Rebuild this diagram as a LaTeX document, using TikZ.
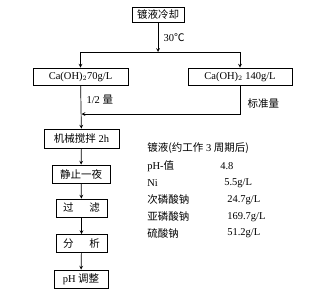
\documentclass[tikz,border=0pt]{standalone}
\usepackage{fontspec}
\setmainfont{Liberation Serif}
\newfontfamily\cjk{Noto Sans CJK SC}
\newcommand{\zh}[1]{{\cjk #1}}
\tikzset{
  stepbox/.style={draw, line width=0.8pt, inner sep=2pt, minimum height=17pt},
  note/.style={inner sep=0pt, anchor=west}
}
\begin{document}
\begin{tikzpicture}[x=1pt, y=-1pt, >=stealth, line width=0.7pt, font=\fontsize{10.5}{12}\selectfont]
\useasboundingbox (0,0) rectangle (334,292);
% flow boxes
\node[stepbox, minimum width=52pt, minimum height=15pt] (cool) at (158,14.5) {\zh{镀液冷却}};
\node[stepbox, minimum width=95pt] (ca1) at (80.5,76.5) {Ca(OH)$_2$70g/L};
\node[stepbox, minimum width=104pt] (ca2) at (240,76.5) {Ca(OH)$_2$ 140g/L};
\node[stepbox, minimum width=75pt, minimum height=19pt] (stir) at (81.5,138.5) {\zh{机械搅拌} 2h};
\node[stepbox, minimum width=58pt, minimum height=18pt] (rest) at (81,174) {\zh{静止一夜}};
\node[stepbox, minimum width=51pt, minimum height=18pt] (filt) at (81.5,208) {\zh{过}\hspace{16pt}\zh{滤}};
\node[stepbox, minimum width=51pt, minimum height=18pt] (anal) at (81.5,243.5) {\zh{分}\hspace{16pt}\zh{析}};
\node[stepbox, minimum width=54pt, minimum height=18pt] (adj) at (81,279) {pH \zh{调整}};
% junctions
\coordinate (j) at (cool.south |- 0,52);
\coordinate (jl) at (ca1.north |- j);
\coordinate (jr) at (ca2.north |- j);
\coordinate (m) at (stir.north |- 0,114);
% connectors
\draw[->] (cool) -- (j) node[pos=0.5, right=2pt] {30\zh{℃}};
\draw (jl) -- (jr);
\draw[->] (jl) -- (ca1);
\draw[->] (jr) -- (ca2);
\draw[->] (ca1) -- (stir) node[pos=0.33, right=2pt] {1/2 \zh{量}};
\draw[->] (ca2) |- (m) node[pos=0.32, right=4pt] {\zh{标准量}};
\draw[->] (stir) -- (rest);
\draw[->] (rest) -- (filt);
\draw[->] (filt) -- (anal);
\draw[->] (anal) -- (adj);
% bath data
\node[note] (head) at (147,148) {\zh{镀液(约工作} 3 \zh{周期后)}};
\node[note] (phk) at (147,166) {pH-\zh{值}};
\node[note] (phv) at (220,166) {4.8};
\node[note] (nik) at (147,183) {Ni};
\node[note] (niv) at (224,183) {5.5g/L};
\node[note] (hypk) at (147,200) {\zh{次磷酸钠}};
\node[note] (hypv) at (227,200) {24.7g/L};
\node[note] (phok) at (147,217) {\zh{亚磷酸钠}};
\node[note] (phov) at (227,217) {169.7g/L};
\node[note] (sulk) at (147,233) {\zh{硫酸钠}};
\node[note] (sulv) at (227,233) {51.2g/L};
\end{tikzpicture}
\end{document}
